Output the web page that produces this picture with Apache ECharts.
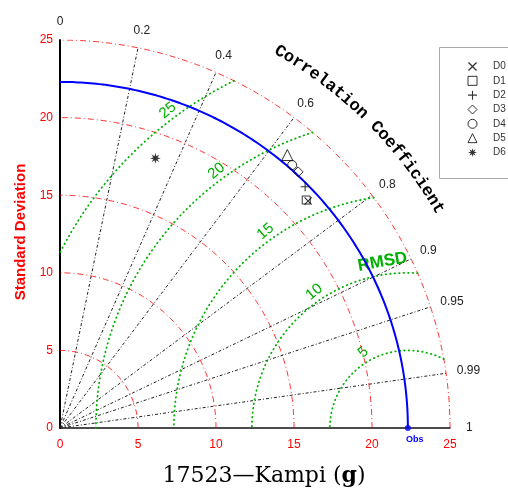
<!DOCTYPE html>
<html><head><meta charset="utf-8">
<script src="https://cdn.jsdelivr.net/npm/echarts@6/dist/echarts.min.js"></script>
<style>html,body{margin:0;padding:0;background:#fff}#c{width:508px;height:495px}</style>
</head><body><div id="c"></div>
<script>
// ---- data ----
const seriesNames = ['D0','D1','D2','D3','D4','D5','D6'];
const stdDev      = [21.61, 21.56, 22.10, 22.48, 22.55, 22.84, 18.42];
const corrCoef    = [0.736, 0.732, 0.711, 0.679, 0.660, 0.638, 0.332];
const obsStd = 22.3;
const stdTicks = [0, 5, 10, 15, 20, 25];
const stdArcs = [5, 10, 15, 20, 25];
const corrTicks = [0, 0.2, 0.4, 0.6, 0.8, 0.9, 0.95, 0.99, 1];
const corrTickLabels = ['0', '0.2', '0.4', '0.6', '0.8', '0.9', '0.95', '0.99', '1'];
const rmsdArcs = [5, 10, 15, 20, 25];
const rmsdLabels = ['5', '10', '15', '20', '25'];
const axisTitle = 'Standard Deviation';
const corrTitle = 'Correlation Coefficient';
const caption = '17523\u2014Kampi ({b|g})';

// ---- styles ----
function starPath(){
  let d = 'path://';
  for (let k = 0; k < 16; k++) {
    const a = k * Math.PI / 8 - Math.PI / 2;
    const rr = k % 2 === 0 ? 5 : 2.0;
    d += (k ? 'L' : 'M') + (5 + rr * Math.cos(a)).toFixed(2) + ',' + (5 + rr * Math.sin(a)).toFixed(2) + ' ';
  }
  return d + 'Z';
}
const symX = 'path://M1,0 L5,4 L9,0 L10,1 L6,5 L10,9 L9,10 L5,6 L1,10 L0,9 L4,5 L0,1 Z';
const symPlus = 'path://M4.4,0 L5.6,0 L5.6,4.4 L10,4.4 L10,5.6 L5.6,5.6 L5.6,10 L4.4,10 L4.4,5.6 L0,5.6 L0,4.4 L4.4,4.4 Z';
const markerStyles = [
  {symbol: symX, filled: true, size: 8},
  {symbol: 'rect', filled: false, size: 8},
  {symbol: symPlus, filled: true, size: 9},
  {symbol: 'diamond', filled: false, size: 10},
  {symbol: 'circle', filled: false, size: 9},
  {symbol: 'triangle', filled: false, size: 11},
  {symbol: starPath(), filled: true, size: 11}
];

const RED = '#ff0000', GREEN = '#00b000', BLUE = '#0000ff';
const series = [];
const deg = Math.PI / 180;

// std-dev arcs
stdArcs.forEach(r => {
  const pts = [];
  for (let i = 0; i <= 180; i++) { const t = i * 0.5 * deg; pts.push([r * Math.cos(t), r * Math.sin(t)]); }
  series.push({type: 'line', data: pts, showSymbol: false, silent: true, z: 1,
    lineStyle: {color: RED, width: 1, type: [6, 3, 1, 3], opacity: 0.8}});
});
// correlation radial lines
corrTicks.forEach(c => {
  if (c <= 0 || c >= 1) return;
  const s = Math.sqrt(1 - c * c);
  series.push({type: 'line', data: [[0, 0], [25 * c, 25 * s]], showSymbol: false, silent: true, z: 1,
    lineStyle: {color: '#222', width: 1, type: [3, 2, 1, 2]}});
});
// RMSD arcs
const Rmax = 25;
rmsdArcs.forEach(r => {
  let c1 = (Rmax * Rmax - obsStd * obsStd - r * r) / (2 * obsStd * r);
  c1 = Math.max(-1, Math.min(1, c1));
  const t1 = Math.acos(c1);
  const t2 = Math.acos(Math.max(-1, -obsStd / r));
  const pts = [];
  const n = 160;
  for (let i = 0; i <= n; i++) { const t = t1 + (t2 - t1) * i / n; pts.push([obsStd + r * Math.cos(t), r * Math.sin(t)]); }
  series.push({type: 'line', data: pts, showSymbol: false, silent: true, z: 1,
    lineStyle: {color: GREEN, width: 1.8, type: [0.5, 4], cap: 'round'}});
});
// observed std arc
{
  const pts = [];
  for (let i = 0; i <= 180; i++) { const t = i * 0.5 * deg; pts.push([obsStd * Math.cos(t), obsStd * Math.sin(t)]); }
  series.push({type: 'line', data: pts, showSymbol: false, silent: true, z: 3,
    lineStyle: {color: BLUE, width: 2}});
}
// obs point
series.push({type: 'scatter', data: [[obsStd, 0]], symbol: 'circle', symbolSize: 6, z: 6, silent: true,
  itemStyle: {color: BLUE}});
// model points
seriesNames.forEach((nm, i) => {
  const ms = markerStyles[i];
  const c = corrCoef[i], s = stdDev[i];
  series.push({type: 'scatter', name: nm, data: [[s * c, s * Math.sqrt(1 - c * c)]],
    symbol: ms.symbol, symbolSize: ms.size, z: 5,
    itemStyle: ms.filled ? {color: '#000', borderWidth: 0} : {color: 'rgba(0,0,0,0)', borderColor: '#000', borderWidth: 1}});
});

const chart = echarts.init(document.getElementById('c'), null, {renderer: 'canvas'});
const option = {
  animation: false,
  backgroundColor: '#fff',
  grid: {left: 60, top: 40, right: 58, bottom: 67, containLabel: false, outerBoundsMode: 'none'},
  xAxis: {type: 'value', min: 0, max: 25, interval: 5,
    axisLine: {show: true, onZero: false, lineStyle: {color: '#111', width: 1.5}},
    axisTick: {show: false}, splitLine: {show: false},
    axisLabel: {color: RED, fontSize: 12, margin: 11, fontFamily: 'Liberation Sans',
      formatter: v => stdTicks.indexOf(v) >= 0 ? String(v) : ''}},
  yAxis: {type: 'value', min: 0, max: 25, interval: 5,
    axisLine: {show: true, onZero: false, lineStyle: {color: '#000', width: 2}},
    axisTick: {show: false}, splitLine: {show: false},
    axisLabel: {color: RED, fontSize: 12, margin: 7, fontFamily: 'Liberation Sans',
      formatter: v => stdTicks.indexOf(v) >= 0 ? String(v) : ''}},
  legend: {orient: 'vertical', left: 462.5, top: 56.5, itemWidth: 9, itemHeight: 9, itemGap: 4.33,
    selectedMode: false, z: 10,
    textStyle: {fontSize: 10, lineHeight: 9, color: '#333', fontFamily: 'Liberation Sans', padding: [0, 0, 0, 11]},
    data: seriesNames.map((nm, i) => ({name: nm, itemStyle: markerStyles[i].filled ? {borderWidth: 0} : {borderWidth: 1, borderColor: '#000'}}))},
  series: series
};
chart.setOption(option);

// ---- text annotations placed through the grid's scales ----
const P = p => chart.convertToPixel({gridIndex: 0}, p);
const els = [];
// legend box
els.push({type: 'rect', shape: {x: 439.5, y: 47.5, width: 100, height: 131}, z: 5, silent: true,
  style: {fill: '#fff', stroke: '#aaa', lineWidth: 1}});
// correlation tick labels
corrTicks.forEach((c, i) => {
  const s = Math.sqrt(1 - c * c);
  const p = P([25.7 * c, 25.7 * s]);
  const txt = corrTickLabels[i];
  const w = (txt.replace('.', '').length) * 6.67 + (txt.indexOf('.') >= 0 ? 3.33 : 0);
  els.push({type: 'text', x: p[0] + w / 2 * c + (c === 1 ? 5 : 0), y: p[1] - 7 * s, silent: true,
    style: {text: txt, fill: '#222', fontSize: 12, fontFamily: 'Liberation Sans', align: 'center', verticalAlign: 'middle'}});
});
// curved title
{
  const R = 28.05, a0 = 59.8, a1 = 30.3, n = corrTitle.length;
  for (let i = 0; i < n; i++) {
    const ch = corrTitle[i];
    if (ch === ' ') continue;
    const a = a0 - i * (a0 - a1) / (n - 1);
    const p = P([R * Math.cos(a * deg), R * Math.sin(a * deg)]);
    els.push({type: 'text', x: p[0], y: p[1], rotation: (a - 90) * deg, silent: true,
      style: {text: ch, fill: '#000', fontSize: 17, fontWeight: 'bold', fontFamily: 'Liberation Mono', align: 'center', verticalAlign: 'middle'}});
  }
}
// RMSD arc labels
rmsdArcs.forEach((r, i) => {
  const ang = 128.8 * deg;
  const p = P([obsStd + 0.27 + r * Math.cos(ang), 0.97 + r * Math.sin(ang)]);
  els.push({type: 'text', x: p[0], y: p[1], rotation: 40 * deg, silent: true,
    style: {text: rmsdLabels[i], fill: GREEN, fontSize: 15, fontFamily: 'Liberation Sans', align: 'center', verticalAlign: 'middle'}});
});
// RMSD word
els.push({type: 'text', x: 382.5, y: 262, rotation: 10 * deg, silent: true,
  style: {text: 'RMSD', fill: GREEN, fontSize: 17, fontWeight: 'bold', fontFamily: 'Liberation Sans', align: 'center', verticalAlign: 'middle'}});
// Obs label
{
  const p = P([obsStd, 0]);
  els.push({type: 'text', x: p[0] - 2, y: p[1] + 12, silent: true,
    style: {text: 'Obs', fill: BLUE, fontSize: 9, fontWeight: 'bold', fontFamily: 'Liberation Sans', align: 'left', verticalAlign: 'middle'}});
}
// y axis title
els.push({type: 'text', x: 21, y: 232, rotation: Math.PI / 2, silent: true,
  style: {text: axisTitle, fill: RED, fontSize: 15, fontWeight: 'bold', fontFamily: 'Liberation Sans', align: 'center', verticalAlign: 'middle'}});
// caption
els.push({type: 'text', x: 264, y: 476, silent: true,
  style: {text: caption, fill: '#000', fontSize: 22, fontFamily: 'DejaVu Serif', align: 'center', verticalAlign: 'middle',
    rich: {b: {fontSize: 22, fontFamily: 'DejaVu Serif', fontWeight: 'bold', fill: '#000'}}}});

chart.setOption({graphic: {elements: els}});
</script>
</body></html>
